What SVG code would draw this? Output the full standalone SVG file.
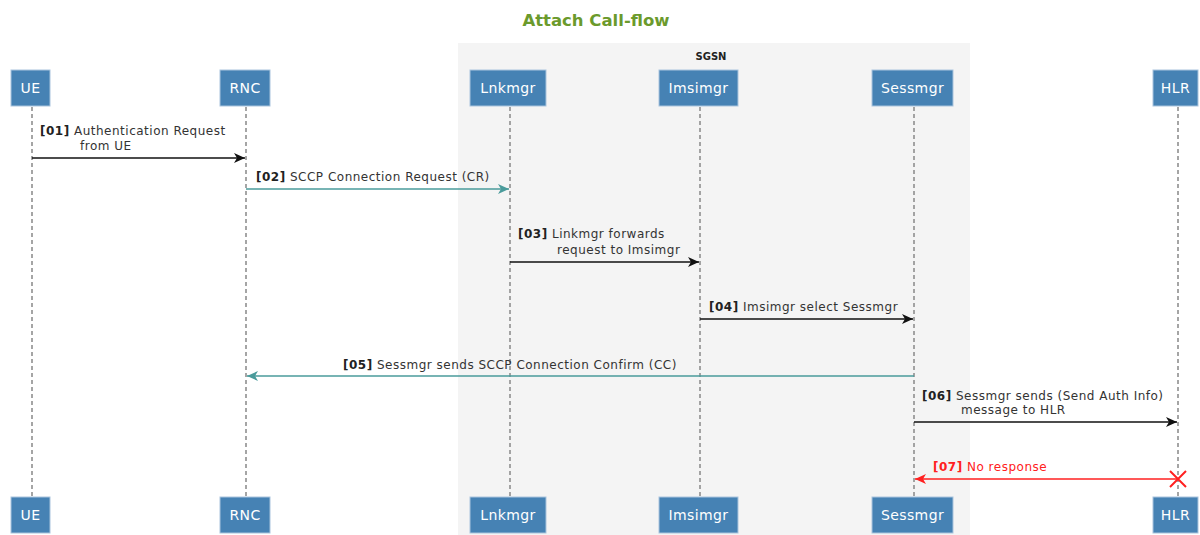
<svg xmlns="http://www.w3.org/2000/svg" width="1200" height="535" viewBox="0 0 1200 535">
<style>
.title{font-family:"DejaVu Sans",sans-serif;font-size:16.5px;font-weight:bold;fill:#6b9a2c}
.grp{font-family:"DejaVu Sans",sans-serif;font-size:10px;font-weight:bold;fill:#222}
.node rect{fill:#4682b4;stroke:#a9c4dd;stroke-width:1}
.node text{font-family:"DejaVu Sans",sans-serif;font-size:14px;letter-spacing:0.4px;fill:#fff;text-anchor:middle}
.life{stroke:#888;stroke-width:1.5;stroke-dasharray:4,3}
.lbl{font-family:"DejaVu Sans",sans-serif;font-size:12px;letter-spacing:0.5px;fill:#333}
.lbl tspan.n{font-weight:bold;fill:#222}
.red{fill:#ff2020}
.red tspan.n{fill:#ff2020}
.m{stroke-width:1.5;fill:none}
</style>
<defs>
<marker id="ab" markerWidth="12" markerHeight="10" refX="11" refY="5" orient="auto" markerUnits="userSpaceOnUse"><path d="M0,0 L11,5 L0,10 L3,5 Z" fill="#111"/></marker>
<marker id="at" markerWidth="12" markerHeight="10" refX="11" refY="5" orient="auto" markerUnits="userSpaceOnUse"><path d="M0,0 L11,5 L0,10 L3,5 Z" fill="#4a9b9b"/></marker>
<marker id="ar" markerWidth="12" markerHeight="10" refX="11" refY="5" orient="auto" markerUnits="userSpaceOnUse"><path d="M0,0 L11,5 L0,10 L3,5 Z" fill="#ff2020"/></marker>
</defs>
<rect width="1200" height="535" fill="#fff"/>
<text class="title" x="596" y="26" text-anchor="middle">Attach Call-flow</text>
<g id="sgsn">
<rect x="458" y="43" width="512" height="492" fill="#f4f4f4"/>
<text class="grp" x="711" y="60" text-anchor="middle">SGSN</text>
</g>
<g id="lifelines">
<line class="life" x1="32" y1="107" x2="32" y2="496"/>
<line class="life" x1="246" y1="107" x2="246" y2="496"/>
<line class="life" x1="510" y1="107" x2="510" y2="496"/>
<line class="life" x1="700" y1="107" x2="700" y2="496"/>
<line class="life" x1="914" y1="107" x2="914" y2="496"/>
<line class="life" x1="1178" y1="107" x2="1178" y2="496"/>
</g>
<g id="UE" class="node"><rect x="11" y="70" width="39" height="36"/><text x="30.5" y="93">UE</text><rect x="11" y="497" width="39" height="36"/><text x="30.5" y="520">UE</text></g>
<g id="RNC" class="node"><rect x="220" y="70" width="50" height="36"/><text x="245" y="93">RNC</text><rect x="220" y="497" width="50" height="36"/><text x="245" y="520">RNC</text></g>
<g id="Lnkmgr" class="node"><rect x="470" y="70" width="76" height="36"/><text x="508" y="93">Lnkmgr</text><rect x="470" y="497" width="76" height="36"/><text x="508" y="520">Lnkmgr</text></g>
<g id="Imsimgr" class="node"><rect x="659" y="70" width="79" height="36"/><text x="698.5" y="93">Imsimgr</text><rect x="659" y="497" width="79" height="36"/><text x="698.5" y="520">Imsimgr</text></g>
<g id="Sessmgr" class="node"><rect x="872" y="70" width="81" height="36"/><text x="912.5" y="93">Sessmgr</text><rect x="872" y="497" width="81" height="36"/><text x="912.5" y="520">Sessmgr</text></g>
<g id="HLR" class="node"><rect x="1153" y="70" width="45" height="36"/><text x="1175.5" y="93">HLR</text><rect x="1153" y="497" width="45" height="36"/><text x="1175.5" y="520">HLR</text></g>
<g id="connectors">
<line class="m" x1="32" y1="158" x2="245" y2="158" stroke="#111" marker-end="url(#ab)"/>
<line class="m" x1="246" y1="189" x2="509" y2="189" stroke="#4a9b9b" marker-end="url(#at)"/>
<line class="m" x1="510" y1="262" x2="699" y2="262" stroke="#111" marker-end="url(#ab)"/>
<line class="m" x1="700" y1="319" x2="913" y2="319" stroke="#111" marker-end="url(#ab)"/>
<line class="m" x1="914" y1="376" x2="247" y2="376" stroke="#4a9b9b" marker-end="url(#at)"/>
<line class="m" x1="914" y1="422" x2="1177" y2="422" stroke="#111" marker-end="url(#ab)"/>
<line class="m" x1="1178" y1="479" x2="915" y2="479" stroke="#ff2020" marker-end="url(#ar)"/>
<path d="M1170,471 L1186,487 M1186,471 L1170,487" stroke="#ff2020" stroke-width="2" fill="none"/>
</g>
<g id="labels">
<text class="lbl" x="40" y="135"><tspan class="n">[01]</tspan> Authentication Request</text>
<text class="lbl" x="80" y="150">from UE</text>
<text class="lbl" x="256" y="181"><tspan class="n">[02]</tspan> SCCP Connection Request (CR)</text>
<text class="lbl" x="518" y="238"><tspan class="n">[03]</tspan> Linkmgr forwards</text>
<text class="lbl" x="557" y="254">request to Imsimgr</text>
<text class="lbl" x="709" y="311"><tspan class="n">[04]</tspan> Imsimgr select Sessmgr</text>
<text class="lbl" x="343" y="369"><tspan class="n">[05]</tspan> Sessmgr sends SCCP Connection Confirm (CC)</text>
<text class="lbl" x="922" y="400"><tspan class="n">[06]</tspan> Sessmgr sends (Send Auth Info)</text>
<text class="lbl" x="961" y="414">message to HLR</text>
<text class="lbl red" x="933" y="471"><tspan class="n">[07]</tspan> No response</text>
</g>
</svg>
